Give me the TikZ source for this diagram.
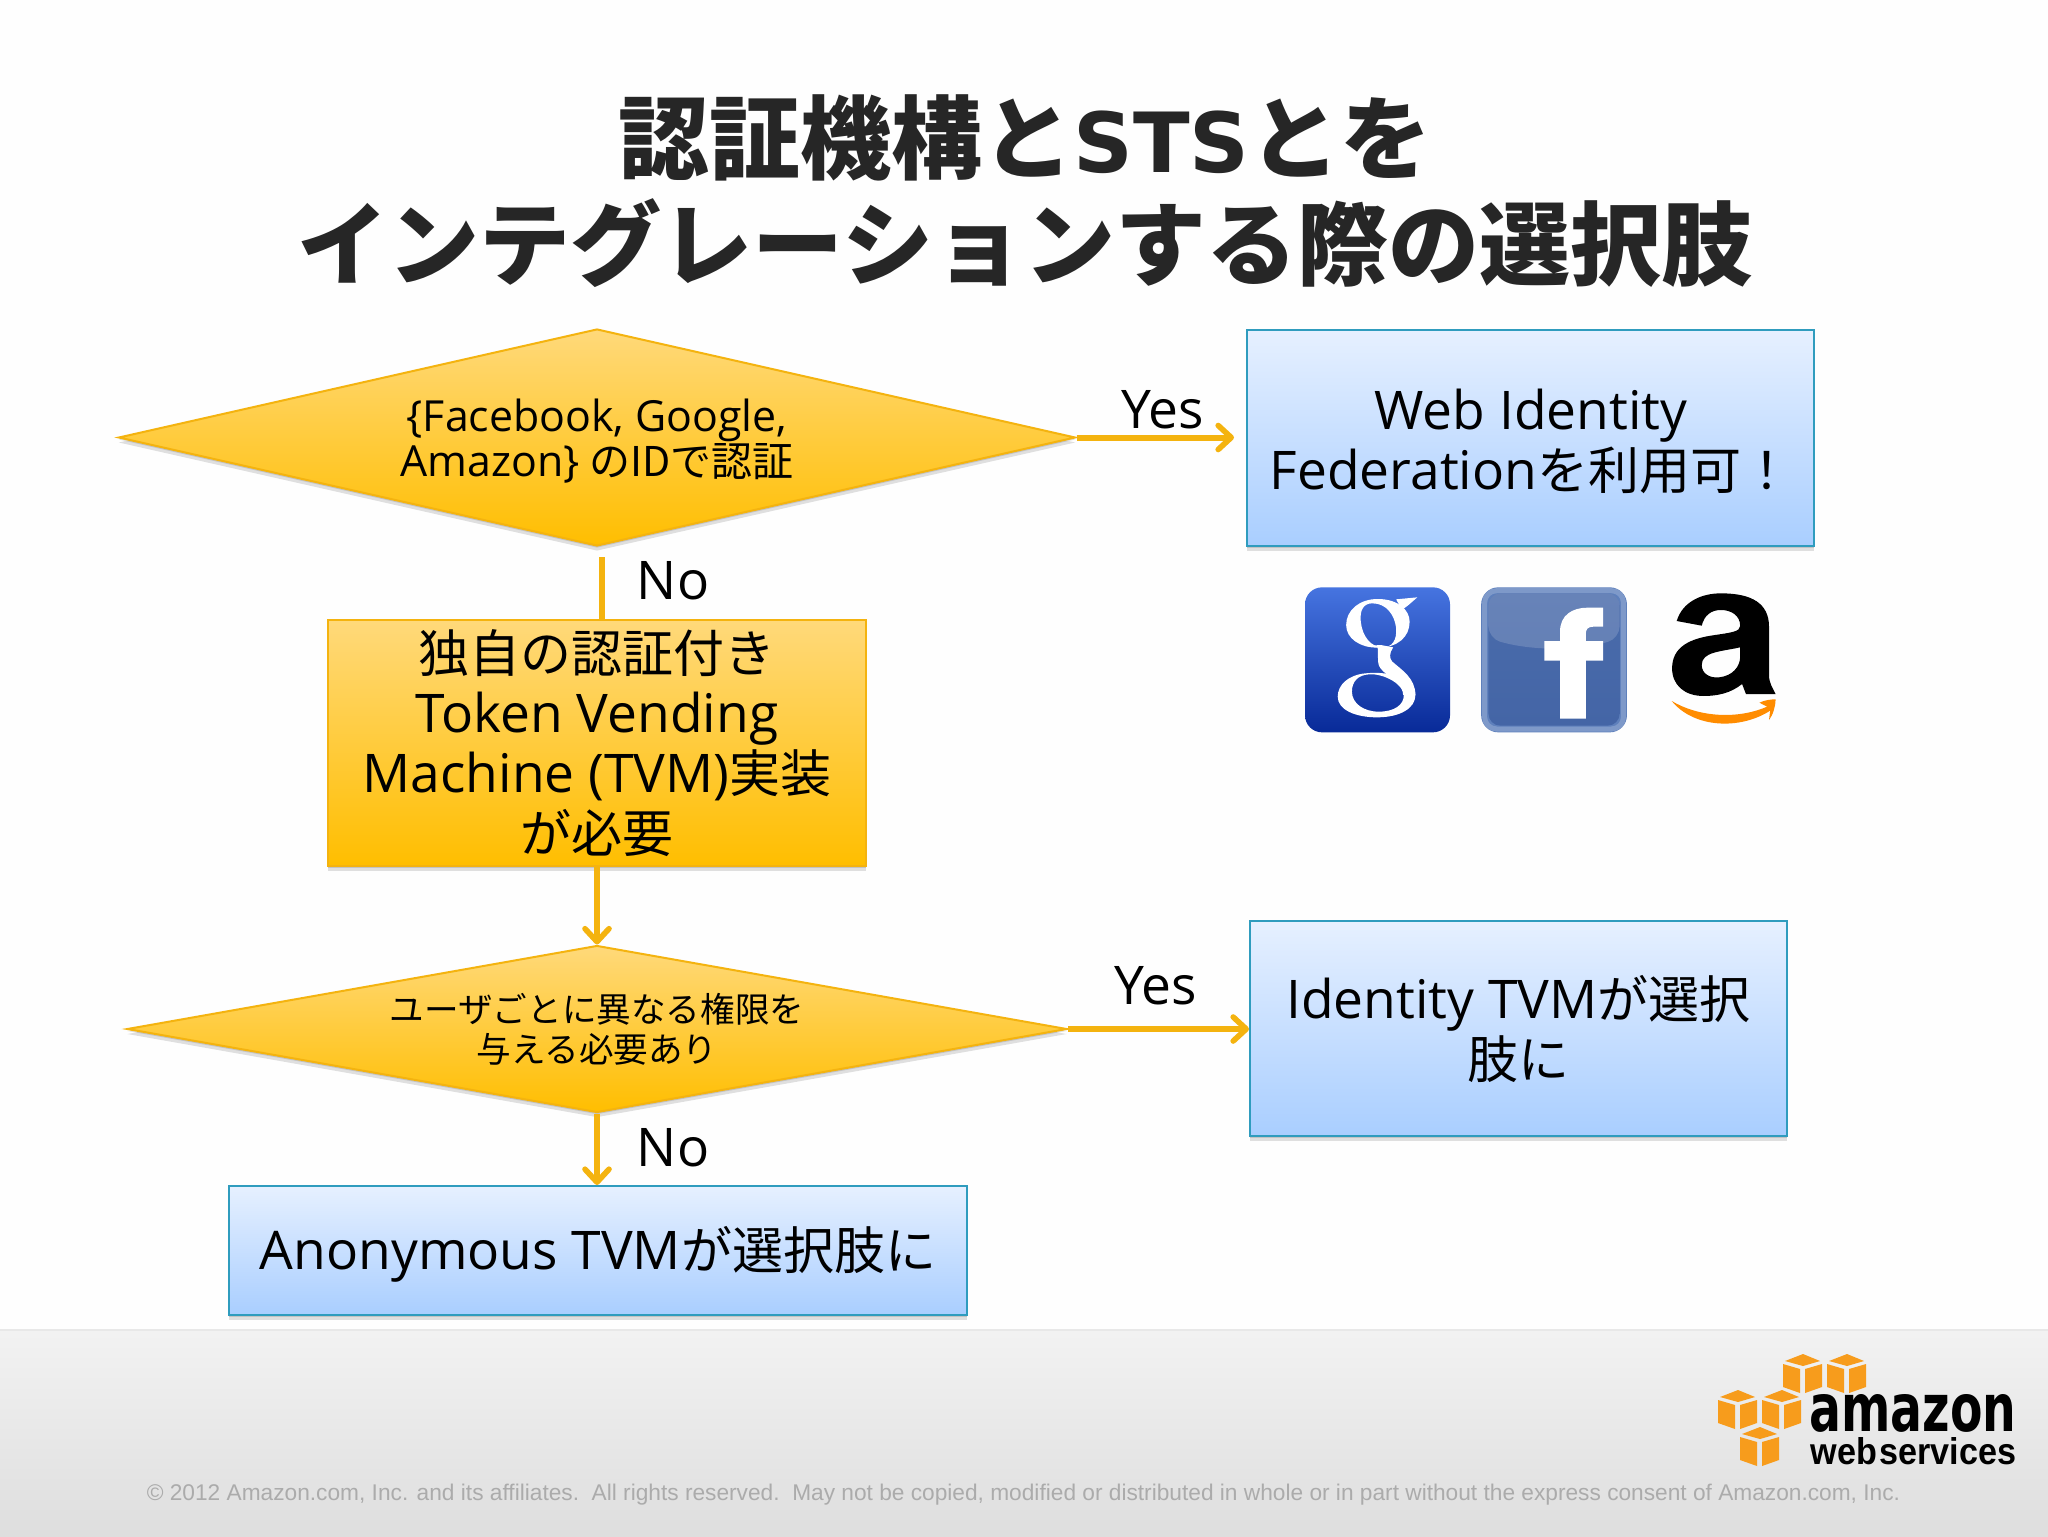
\documentclass[tikz,border=0pt]{standalone}
\usepackage{fontspec}
\usepackage{graphicx}
\usetikzlibrary{shapes.geometric,arrows.meta,shadows}
\setmainfont{Noto Sans CJK JP}
\newfontfamily\liberasans{Liberation Sans}
\newfontfamily\dejabold{DejaVu Sans}
\newfontfamily\lat{Open Sans}[Scale=1.045]
\definecolor{flowor}{HTML}{F4B30F}
\definecolor{bluebd}{HTML}{2F9CBE}
\definecolor{cubeor}{HTML}{F79C1C}
\definecolor{yeltop}{HTML}{FFD97A}
\definecolor{yelbot}{HTML}{FFBE00}
\definecolor{blutop}{HTML}{E6F0FF}
\definecolor{blubot}{HTML}{A9CEFF}
\definecolor{gtop}{HTML}{4674E0}
\definecolor{gmid}{HTML}{2F5CD0}
\definecolor{gbot}{HTML}{082A98}
\definecolor{fbedge}{HTML}{5E80BC}
\definecolor{fbtop}{HTML}{4A6CAB}
\definecolor{fbbot}{HTML}{4465A6}
\newcommand{\awscube}[1]{\begin{scope}[shift={#1}]
\fill[cubeor] (0,-19) -- (17,-12) -- (0,-7) -- (-18,-12) -- cycle;
\fill[cubeor] (-20,-9) -- (-3,-4) -- (-3,20) -- (-20,14) -- cycle;
\fill[cubeor] (2,-4) -- (19,-9) -- (19,14) -- (2,20) -- cycle;
\end{scope}}
\tikzset{
 softshadow/.style={drop shadow={opacity=.12,shadow xshift=0pt,shadow yshift=-1pt,fill=black},drop shadow={opacity=.12,shadow xshift=0pt,shadow yshift=-2.5pt,fill=black}},
 yeldiamond/.style={diamond,inner sep=0pt,draw=flowor,line width=1pt,top color=yeltop,bottom color=yelbot,softshadow},
 yelbox/.style={rectangle,inner sep=0pt,draw=flowor,line width=1pt,top color=yeltop,bottom color=yelbot,softshadow,align=center,text=black},
 bluebox/.style={rectangle,inner sep=0pt,draw=bluebd,line width=1pt,top color=blutop,bottom color=blubot,softshadow,align=center,text=black},
 bigtxt/.style={font=\fontsize{25.5}{30}\selectfont},
 flowarrow/.style={draw=flowor,line width=3pt,-{Straight Barb[length=6.5pt,width=12pt,line width=2.8pt,round]}},
 flowline/.style={draw=flowor,line width=3pt},
 lbl/.style={font=\lat\fontsize{25.5}{30}\selectfont,text=black,inner sep=0pt},
 difftxt/.style={inner sep=0pt,align=center,text=black},
}
\begin{document}
\begin{tikzpicture}[x=.5pt,y=-.5pt]
\useasboundingbox (0,0) rectangle (2048,1536);
\fill[white!99.5!black] (0,0) rectangle (2048,1536);
\shade[top color=black!5,bottom color=black!13] (0,1330) rectangle (2048,1536);
\draw[black!9,line width=.7pt] (0,1330) -- (2048,1330);

\node[inner sep=0pt,text=black!85,align=center,font=\bfseries\fontsize{45.5}{53}\selectfont] (title) at (1025,191) {認証機構と{\dejabold\fontsize{41.5}{53}\selectfont STS}とを\\インテグレーションする際の選択肢};

\node[yeldiamond,minimum width=478.5pt,minimum height=108.5pt] (d1) at (597,437.5) {};
\node[difftxt,font=\fontsize{20.5}{22.5}\selectfont] (d1t) at (597,441) {{\lat\{Facebook, Google,}\\{\lat Amazon\}} のIDで認証};
\node[bluebox,minimum width=283.5pt,minimum height=108pt] (web) at (1530.5,438) {};
\node[difftxt,bigtxt] (webt) at (1531,441) {{\lat Web Identity}\\{\lat Federation}を利用可！};
\node[yelbox,bigtxt,minimum width=269pt,minimum height=123pt] (tvm) at (597,743) {独自の認証付き\\{\lat Token Vending}\\{\lat Machine (TVM)}実装\\が必要};
\node[yeldiamond,minimum width=470pt,minimum height=83.5pt] (d2) at (597,1029) {};
\node[difftxt,font=\fontsize{17.3}{20}\selectfont] (d2t) at (597,1029.5) {ユーザごとに異なる権限を\\与える必要あり};
\node[bluebox,bigtxt,minimum width=268.5pt,minimum height=107.5pt] (idt) at (1518.5,1028.5) {{\lat Identity TVM}が選択\\肢に};
\node[bluebox,minimum width=369pt,minimum height=64.5pt] (anon) at (598,1250.5) {};
\node[difftxt,bigtxt] (anont) at (598,1254) {{\lat Anonymous TVM}が選択肢に};

\draw[flowarrow,shorten >=6pt] (d1.east) -- (d1.east -| web.west);
\draw[flowline,shorten <=5pt] ([xshift=2.5pt]d1.south) -- ([xshift=2.5pt]d1.south |- tvm.north);
\draw[flowarrow] (tvm.south) -- (d2.north);
\draw[flowarrow] (d2.east) -- (d2.east -| idt.west);
\draw[flowarrow] (d2.south) -- (d2.south |- anon.north);

\node[lbl] (yes1) at (1163,410) {Yes};
\node[lbl] (yes2) at (1156,986) {Yes};
\node[lbl] (no1) at (673,581) {No};
\node[lbl] (no2) at (673,1148) {No};

% logos, drawn in zoom coordinates
\begin{scope}[shift={(1250,560)},x=.5pt/2.6,y=-.5pt/3]
\shade[top color=gtop,middle color=gmid,bottom color=gbot,rounded corners=8.5pt] (143,82) rectangle (520,517);
\fill[white,even odd rule] (332,117) .. controls (285,117) and (250,150) .. (250,195) .. controls (250,235) and (285,263) .. (332,263) .. controls (385,263) and (415,230) .. (415,185) .. controls (415,150) and (385,117) .. (332,117) -- cycle
 (318,130) .. controls (295,130) and (285,150) .. (288,185) .. controls (292,230) and (315,262) .. (345,262) .. controls (370,262) and (382,240) .. (380,205) .. controls (376,165) and (355,130) .. (318,130) -- cycle;
\fill[white] (380,118) -- (435,112) -- (412,135) -- (395,150) -- cycle;
\fill[white] (300,258) -- (332,262) -- (333,305) .. controls (333,322) and (345,332) .. (352,340) .. controls (375,360) and (398,378) .. (398,405) -- (430,405) .. controls (430,355) and (395,330) .. (370,305) .. controls (362,295) and (362,280) .. (372,262) -- (340,255) -- cycle;
\fill[white,even odd rule] (300,340) .. controls (255,345) and (228,375) .. (228,410) .. controls (228,450) and (275,472) .. (330,472) .. controls (390,472) and (430,445) .. (430,405) .. controls (430,370) and (380,330) .. (300,340) -- cycle
 (310,343) .. controls (280,345) and (265,365) .. (265,395) .. controls (265,430) and (295,455) .. (335,455) .. controls (375,455) and (400,435) .. (400,405) .. controls (400,375) and (350,340) .. (310,343) -- cycle;

\fill[fbedge,rounded corners=8.5pt] (601,82) rectangle (980,517);
\shade[top color=fbtop,bottom color=fbbot,rounded corners=6pt] (620,100) rectangle (961,497);
\fill[white,opacity=.16,rounded corners=6pt] (620,100) -- (620,235) .. controls (740,275) and (860,270) .. (961,235) -- (961,100) -- cycle;
\draw[white,opacity=.2,line width=2.5pt,rounded corners=6pt] (610,92) rectangle (971,507);
\fill[white] (806,476) -- (806,302) -- (765,302) -- (765,243) -- (806,243) -- (806,215) .. controls (806,165) and (838,143) .. (878,143) -- (918,143) -- (918,200) -- (893,200) .. controls (878,200) and (873,208) .. (873,222) -- (873,243) -- (918,243) -- (918,302) -- (873,302) -- (873,476) -- cycle;
\begin{scope}[xshift=-3pt]
\fill[black,even odd rule] (1125,183) .. controls (1140,125) and (1190,100) .. (1240,100) .. controls (1320,100) and (1365,130) .. (1365,200) -- (1365,345) .. controls (1365,370) and (1375,385) .. (1382,402) -- (1305,402) -- (1295,372) .. controls (1265,400) and (1230,408) .. (1195,408) .. controls (1145,408) and (1113,375) .. (1113,325) .. controls (1113,260) and (1160,235) .. (1225,225) .. controls (1265,218) and (1290,215) .. (1290,198) .. controls (1290,165) and (1265,150) .. (1240,150) .. controls (1215,150) and (1197,165) .. (1190,197) -- cycle
(1290,262) .. controls (1240,275) and (1190,275) .. (1190,315) .. controls (1190,340) and (1210,355) .. (1235,352) .. controls (1270,348) and (1290,320) .. (1290,290) -- cycle;
\fill[orange!90!yellow] (1112,423) .. controls (1180,470) and (1280,480) .. (1360,440) -- (1340,428) .. controls (1355,420) and (1370,418) .. (1382,418) .. controls (1382,440) and (1375,465) .. (1365,480) -- (1368,452) .. controls (1290,510) and (1170,505) .. (1112,423) -- cycle;
\end{scope}
\end{scope}

% AWS logo
\awscube{(1803,1373)}
\awscube{(1847,1373)}
\awscube{(1738,1409)}
\awscube{(1782,1409)}
\awscube{(1760,1446)}
\node[anchor=south west,inner sep=0pt,font=\dejabold\bfseries,text=black] (aws1) at (1809,1433) {\resizebox{103.5pt}{18.5pt}{amazon}};
\node[anchor=south west,inner sep=0pt,font=\liberasans\bfseries,text=black] (aws2) at (1810,1465) {\resizebox{103pt}{13.5pt}{web\hspace{.08em}services}};

\node[inner sep=0pt,text=black!33,font=\liberasans\fontsize{11.35}{14}\selectfont] (copy) at (1023.5,1495) {© 2012 Amazon.com, Inc. and its affiliates.\ \ All rights reserved.\ \ May not be copied, modified or distributed in whole or in part without the express consent of Amazon.com, Inc.};
\end{tikzpicture}
\end{document}
